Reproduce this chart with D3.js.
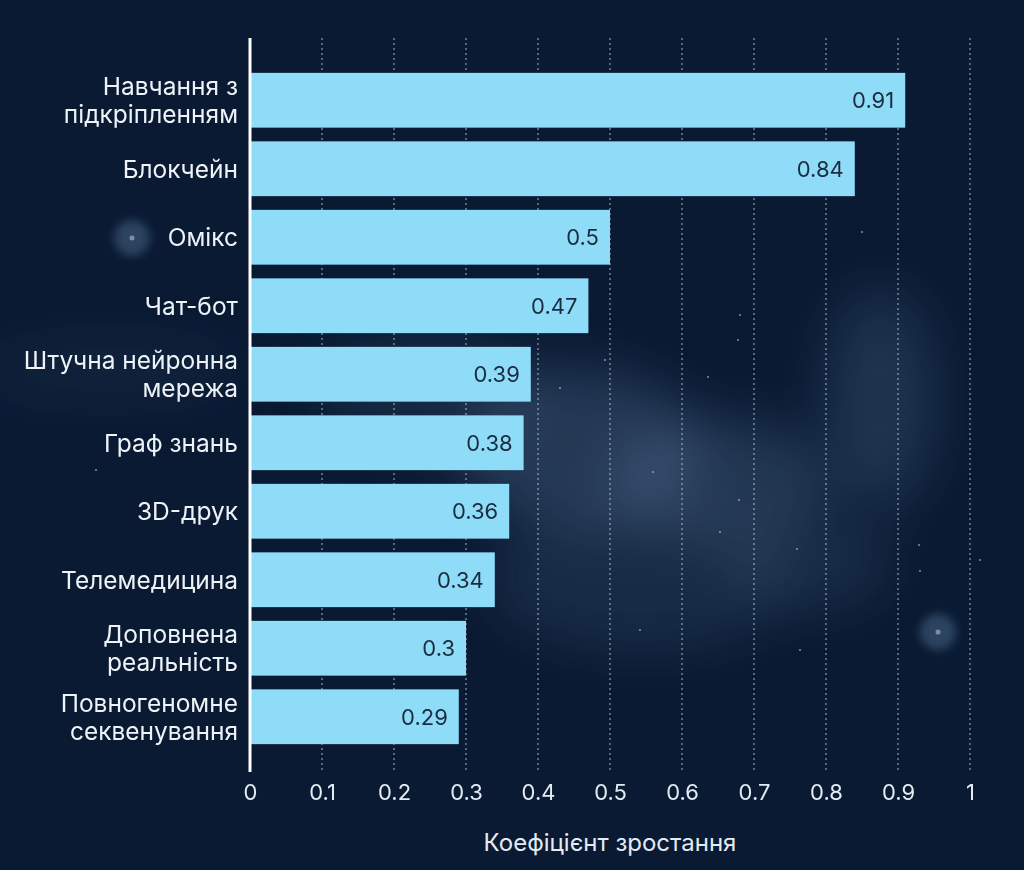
<!DOCTYPE html>
<html>
<head>
<meta charset="utf-8">
<script src="https://cdn.jsdelivr.net/npm/d3@7"></script>
<style>
  html, body { margin: 0; padding: 0; background: #0a1a33; }
  svg { display: block; }
</style>
</head>
<body>
<div id="chart"></div>
<script>
var width = 1024,
    height = 870,
    margin = {top: 38, right: 54, bottom: 98, left: 250};

// chart data
var categories = [
  ["Навчання з", "підкріпленням"],
  ["Блокчейн"],
  ["Омікс"],
  ["Чат-бот"],
  ["Штучна нейронна", "мережа"],
  ["Граф знань"],
  ["3D-друк"],
  ["Телемедицина"],
  ["Доповнена", "реальність"],
  ["Повногеномне", "секвенування"]
];
var values = [0.91, 0.84, 0.5, 0.47, 0.39, 0.38, 0.36, 0.34, 0.3, 0.29];
var tickValues = [0, 0.1, 0.2, 0.3, 0.4, 0.5, 0.6, 0.7, 0.8, 0.9, 1];
var axisTitle = "Коефіцієнт зростання";

var data = categories.map(function(c, i) {
  return {lines: c, key: c.join(" "), value: values[i]};
});

var font = "Inter, 'Noto Sans', sans-serif";

var svg = d3.select("#chart").append("svg")
    .attr("width", width)
    .attr("height", height);

var defs = svg.append("defs");

var blur = defs.append("filter").attr("id", "blur")
    .attr("x", "-50%").attr("y", "-50%").attr("width", "200%").attr("height", "200%");
blur.append("feGaussianBlur").attr("stdDeviation", 26);

var blurSmall = defs.append("filter").attr("id", "blurSmall")
    .attr("x", "-50%").attr("y", "-50%").attr("width", "200%").attr("height", "200%");
blurSmall.append("feGaussianBlur").attr("stdDeviation", 5);

// background: dark sky with a faint nebula
svg.append("rect")
    .attr("width", width)
    .attr("height", height)
    .attr("fill", "#0a1a33");

var sky = svg.append("g").attr("filter", "url(#blur)");
var clouds = [
  [580, 450, 120, 80, 0.26],
  [720, 480, 110, 60, 0.24],
  [880, 400, 55, 110, 0.20],
  [640, 580, 150, 70, 0.14],
  [430, 390, 110, 60, 0.12],
  [110, 370, 130, 30, 0.08],
  [810, 560, 80, 50, 0.14]
];
sky.selectAll("ellipse")
  .data(clouds)
  .enter().append("ellipse")
    .attr("cx", function(d) { return d[0]; })
    .attr("cy", function(d) { return d[1]; })
    .attr("rx", function(d) { return d[2]; })
    .attr("ry", function(d) { return d[3]; })
    .attr("fill", "#6f94b8")
    .attr("opacity", function(d) { return d[4]; });

// two small spiral galaxies
var galaxies = [[132, 238], [938, 632]];
svg.append("g").selectAll("circle")
  .data(galaxies)
  .enter().append("circle")
    .attr("cx", function(d) { return d[0]; })
    .attr("cy", function(d) { return d[1]; })
    .attr("r", 18)
    .attr("fill", "#6f94b8")
    .attr("opacity", 0.35)
    .attr("filter", "url(#blurSmall)");
svg.append("g").selectAll("circle")
  .data(galaxies)
  .enter().append("circle")
    .attr("cx", function(d) { return d[0]; })
    .attr("cy", function(d) { return d[1]; })
    .attr("r", 2.5)
    .attr("fill", "#a9c4dc")
    .attr("opacity", 0.6);

var stars = [[740, 315], [738, 340], [739, 500], [653, 472], [720, 532], [862, 232],
             [919, 545], [920, 571], [797, 549], [708, 377], [96, 470], [640, 630],
             [560, 388], [800, 650], [980, 560], [430, 700], [605, 360]];
svg.append("g").selectAll("circle")
  .data(stars)
  .enter().append("circle")
    .attr("cx", function(d) { return d[0]; })
    .attr("cy", function(d) { return d[1]; })
    .attr("r", 1.1)
    .attr("fill", "#bcd3e8")
    .attr("opacity", 0.6);

// scales
var x = d3.scaleLinear()
    .domain([0, 1])
    .range([margin.left, width - margin.right]);

var y = d3.scaleBand()
    .domain(data.map(function(d) { return d.key; }))
    .range([66, 751])
    .paddingInner(0.2)
    .paddingOuter(0.1);

var plotTop = margin.top,
    plotBottom = height - margin.bottom;

// dotted grid
svg.append("g")
  .selectAll("line")
  .data(tickValues.slice(1))
  .enter().append("line")
    .attr("x1", function(d) { return x(d); })
    .attr("x2", function(d) { return x(d); })
    .attr("y1", plotTop)
    .attr("y2", plotBottom)
    .attr("stroke", "#dce8f3")
    .attr("stroke-opacity", 0.75)
    .attr("stroke-width", 1)
    .attr("stroke-dasharray", "2,3");

// bars
svg.append("g")
  .selectAll("rect")
  .data(data)
  .enter().append("rect")
    .attr("x", x(0))
    .attr("y", function(d) { return y(d.key); })
    .attr("width", function(d) { return x(d.value) - x(0); })
    .attr("height", y.bandwidth())
    .attr("fill", "#8fdcf8");

// value labels inside bars
svg.append("g")
  .selectAll("text")
  .data(data)
  .enter().append("text")
    .attr("x", function(d) { return x(d.value) - 11; })
    .attr("y", function(d) { return y(d.key) + y.bandwidth() / 2; })
    .attr("dy", "0.36em")
    .attr("text-anchor", "end")
    .attr("font-family", font)
    .attr("font-size", 22)
    .attr("fill", "#1b2b40")
    .text(function(d) { return d.value; });

// category labels
var labels = svg.append("g")
  .selectAll("text")
  .data(data)
  .enter().append("text")
    .attr("text-anchor", "end")
    .attr("font-family", font)
    .attr("font-size", 24.5)
    .attr("fill", "#eef3f8");

labels.each(function(d) {
  var lineHeight = 28,
      cy = y(d.key) + y.bandwidth() / 2,
      start = cy - (d.lines.length - 1) * lineHeight / 2;
  d3.select(this).selectAll("tspan")
    .data(d.lines)
    .enter().append("tspan")
      .attr("x", margin.left - 12)
      .attr("y", function(l, i) { return start + i * lineHeight; })
      .attr("dy", "0.36em")
      .text(function(l) { return l; });
});

// y axis line
svg.append("line")
    .attr("x1", x(0))
    .attr("x2", x(0))
    .attr("y1", plotTop)
    .attr("y2", plotBottom)
    .attr("stroke", "#ffffff")
    .attr("stroke-width", 3);

// x axis tick labels
var xAxis = d3.axisBottom(x)
    .tickValues(tickValues)
    .tickSize(0)
    .tickPadding(12)
    .tickFormat(function(d) { return d; });

var gx = svg.append("g")
    .attr("transform", "translate(0," + plotBottom + ")")
    .call(xAxis);
gx.select(".domain").remove();
gx.selectAll("text")
    .attr("font-family", font)
    .attr("font-size", 22)
    .attr("fill", "#e3ebf3");

// axis title
svg.append("text")
    .attr("x", x(0.5))
    .attr("y", 842)
    .attr("dy", "0.36em")
    .attr("text-anchor", "middle")
    .attr("font-family", font)
    .attr("font-size", 24)
    .attr("fill", "#e3ebf3")
    .text(axisTitle);
</script>
</body>
</html>
